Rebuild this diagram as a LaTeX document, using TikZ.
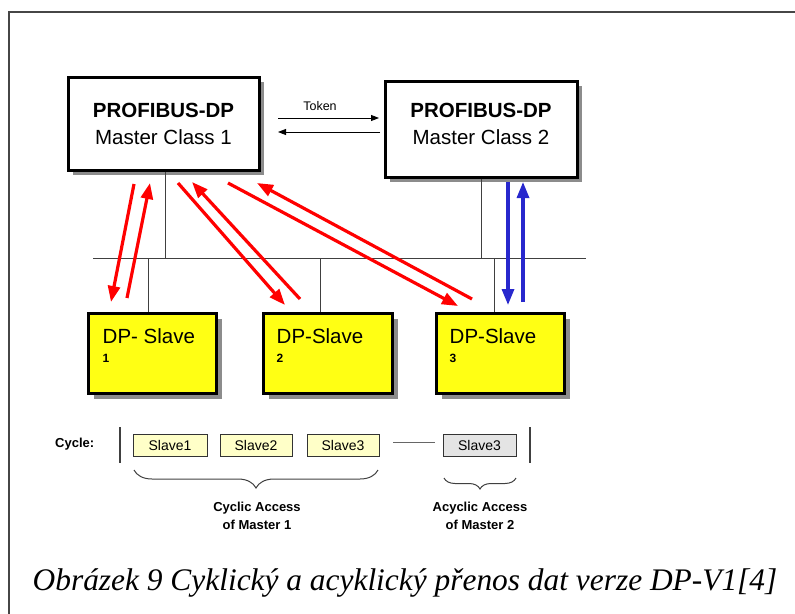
\documentclass[tikz,border=0pt]{standalone}
\usepackage{fontspec}
\setmainfont{Liberation Sans}
\newfontfamily\capfont{Liberation Serif}
\usetikzlibrary{arrows.meta,decorations.pathreplacing,calc}
\definecolor{shadowgray}{RGB}{140,140,140}
\definecolor{slaveyellow}{RGB}{255,255,20}
\definecolor{cycyellow}{RGB}{255,255,200}
\definecolor{cycgray}{RGB}{228,228,228}
\definecolor{arrred}{RGB}{255,0,0}
\definecolor{arrblue}{RGB}{40,40,205}
\definecolor{framegray}{RGB}{70,70,70}
\tikzset{
  mbox/.style={draw=black, line width=3pt, fill=white, minimum width=#1, minimum height=93pt, inner sep=0pt,
    preaction={fill=shadowgray, transform canvas={xshift=5pt,yshift=-5pt}}},
  sbox/.style={draw=black, line width=3pt, fill=slaveyellow, minimum width=#1, minimum height=80pt, inner sep=0pt,
    preaction={fill=shadowgray, transform canvas={xshift=6pt,yshift=-6pt}}},
  mtext/.style={align=center, font=\fontsize{20.5}{27}\selectfont, inner sep=0pt},
  stext/.style={anchor=west, font=\fontsize{20.5}{24}\selectfont, inner sep=0pt},
  snum/.style={anchor=west, font=\fontsize{12}{14}\selectfont\bfseries, inner sep=0pt},
  cbox/.style={draw=black!80, line width=0.8pt, fill=#1, minimum height=22pt, inner sep=0pt, font=\fontsize{14}{16}\selectfont},
  busline/.style={draw=black!75, line width=1pt},
  redarrow/.style={draw=arrred, line width=3.2pt, -{Triangle[length=16pt,width=12pt]}},
  bluearrow/.style={draw=arrblue, line width=3.2pt, -{Triangle[length=16pt,width=12pt]}},
  tokarrow/.style={draw=black, line width=0.9pt, -{Triangle[length=8pt,width=6pt]}},
  bartick/.style={draw=black!75, line width=1.3pt},
  bracestyle/.style={draw=black!75, line width=1pt, decorate, decoration={brace, mirror, amplitude=#1}},
  labtext/.style={align=center, font=\fontsize{13}{18}\selectfont\bfseries, inner sep=0pt}
}
\begin{document}
\begin{tikzpicture}[x=1pt,y=-1pt]
\useasboundingbox (0,0) rectangle (795,613);
% frame
\draw[framegray, line width=2pt] (9,614) -- (9,12) -- (796,12);

% masters
\node[mbox=191pt] (m1) at (163.5,123.5) {};
\node[mtext] (m1t) at (163.5,123.5) {\textbf{PROFIBUS-DP}\\Master Class 1};
\node[mbox=192pt, minimum height=96pt] (m2) at (481,129) {};
\node[mtext] (m2t) at (481,123.5) {\textbf{PROFIBUS-DP}\\Master Class 2};

% token
\node[font=\fontsize{12.5}{14}\selectfont, inner sep=0pt] (tok) at (320,106) {Token};
\coordinate (t1a) at (278,118); \coordinate (t1b) at (379,118);
\coordinate (t2a) at (380,132); \coordinate (t2b) at (278,132);
\draw[tokarrow] (t1a) -- (t1b);
\draw[tokarrow] (t2a) -- (t2b);

% slaves
\node[sbox=128pt] (s1) at (152,353) {};
\node[sbox=129pt] (s2) at (327.5,353) {};
\node[sbox=128pt] (s3) at (500,353) {};
\node[stext] (s1t) at ($(s1.west)+(16,-17)$) {DP- Slave};
\node[snum] (s1n) at ($(s1.west)+(16,5)$) {1};
\node[stext] (s2t) at ($(s2.west)+(15,-17)$) {DP-Slave};
\node[snum] (s2n) at ($(s2.west)+(15,5)$) {2};
\node[stext] (s3t) at ($(s3.west)+(15,-17)$) {DP-Slave};
\node[snum] (s3n) at ($(s3.west)+(15,5)$) {3};

% bus
\coordinate (busL) at (93,258);
\coordinate (busR) at (586,258);
\draw[busline] (busL) -- (busR);
\draw[busline] (m1.south -| 165,0) -- (165,258);
\draw[busline] (m2.south -| 481,0) -- (481,258);
\draw[busline] (148,258) -- (s1.north -| 148,0);
\draw[busline] (320,258) -- (s2.north -| 320,0);
\draw[busline] (494,258) -- (s3.north -| 494,0);

% red arrows
\coordinate (r1a) at (134,184); \coordinate (r1b) at (111,302);
\coordinate (r2a) at (127,298); \coordinate (r2b) at (150,183);
\coordinate (r3a) at (178,183); \coordinate (r3b) at (285,305);
\coordinate (r4a) at (300,299); \coordinate (r4b) at (192,182);
\coordinate (r5a) at (228,183); \coordinate (r5b) at (458,306);
\coordinate (r6a) at (472,299); \coordinate (r6b) at (257,183);
\draw[redarrow] (r1a) -- (r1b);
\draw[redarrow] (r2a) -- (r2b);
\draw[redarrow] (r3a) -- (r3b);
\draw[redarrow] (r4a) -- (r4b);
\draw[redarrow] (r5a) -- (r5b);
\draw[redarrow] (r6a) -- (r6b);

% blue arrows
\coordinate (b1a) at (508,182); \coordinate (b1b) at (508,305);
\coordinate (b2a) at (523,302); \coordinate (b2b) at (523,182);
\draw[bluearrow] (b1a) -- (b1b);
\draw[bluearrow] (b2a) -- (b2b);

% cycle row
\node[font=\fontsize{13}{15}\selectfont\bfseries, inner sep=0pt, anchor=west] (cyc) at (55,444) {Cycle:};
\coordinate (barLa) at (120,427); \coordinate (barLb) at (120,463);
\coordinate (barRa) at (530,427); \coordinate (barRb) at (530,463);
\draw[bartick] (barLa) -- (barLb);
\draw[bartick] (barRa) -- (barRb);
\node[cbox=cycyellow, minimum width=74pt] (c1) at (170,445) {Slave1};
\node[cbox=cycyellow, minimum width=72pt] (c2) at (256,445) {Slave2};
\node[cbox=cycyellow, minimum width=72pt] (c3) at (343,445) {Slave3};
\node[cbox=cycgray, minimum width=73pt] (c4) at (479.5,445) {Slave3};
\draw[black!60, line width=0.8pt] (393,442) -- (435,442);

% braces
\draw[bracestyle=18pt] (134,470) -- (378,470);
\draw[bracestyle=11pt] (444,478) -- (516,478);
\node[labtext] (lab1) at (257,516) {Cyclic Access\\of Master 1};
\node[labtext] (lab2) at (480,516) {Acyclic Access\\of Master 2};

% caption
\node[font=\capfont\itshape\fontsize{31.4}{34}\selectfont, inner sep=0pt, anchor=base] (cap) at (405,590)
  {Obrázek 9 Cyklický a acyklický přenos dat verze DP-V1[4]};
\end{tikzpicture}
\end{document}
